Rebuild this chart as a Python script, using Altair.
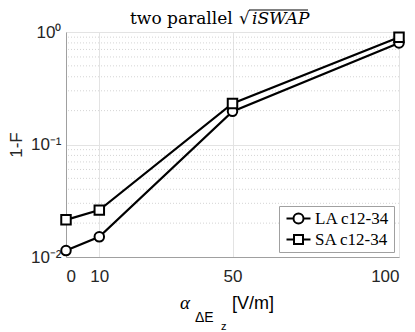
import altair as alt
import pandas as pd

# ---- data ----
alpha = [0, 10, 50, 100]
la_vals = [0.0114, 0.0151, 0.197, 0.80]
sa_vals = [0.0214, 0.0261, 0.232, 0.90]
series_names = ["LA c12-34", "SA c12-34"]
x_ticks = [0, 10, 50, 100]
y_ticks = [0.01, 0.1, 1]
y_minor = [0.02, 0.03, 0.04, 0.05, 0.06, 0.07, 0.08, 0.09,
           0.2, 0.3, 0.4, 0.5, 0.6, 0.7, 0.8, 0.9]
title_plain = ["two parallel"]
title_root = ["√"]
title_math = ["iSWAP"]
xt_alpha = ["α"]
xt_sub = ["ΔE"]
xt_subsub = ["z"]
xt_unit = ["[V/m]"]

df = pd.DataFrame({
    "alpha": alpha * 2,
    "infid": la_vals + sa_vals,
    "series": [series_names[0]] * len(alpha) + [series_names[1]] * len(alpha),
})

W, H = 333, 225
AX = "#a0a0a0"
TXT = "#262626"
SANS = "Liberation Sans"
SERIF = "Liberation Serif"
TSERIF = "DejaVu Serif"

xs = alt.Scale(domain=[0, 100], nice=False)
ys = alt.Scale(type="log", domain=[0.01, 1], nice=False)

x_axis = alt.Axis(values=x_ticks, title=None, grid=True, gridColor="#e3e3e3",
                  domainColor=AX, tickSize=0, labelFont=SANS, labelFontSize=17,
                  labelColor=TXT, labelPadding=11, format="d")
y_axis = alt.Axis(values=y_ticks, grid=True, gridColor="#e3e3e3", domainColor=AX,
                  tickSize=0, labelFont=SANS, labelFontSize=17, labelColor=TXT,
                  labelPadding=5,
                  labelExpr="datum.value > 0.5 ? '10⁰' : datum.value > 0.05 ? '10⁻¹' : '10⁻²'",
                  title="1-F", titleFont=SANS, titleFontSize=17, titleFontWeight="normal",
                  titleColor=TXT, titleX=-50, titleY=H / 2, titleBaseline="middle",
                  titleAlign="center", titleAngle=270)

minor = alt.Chart(pd.DataFrame({"v": y_minor})).mark_rule(
    color="#d4d4d4", strokeDash=[1, 2], strokeWidth=1
).encode(y=alt.Y("v:Q", scale=ys, axis=y_axis))

base = alt.Chart(df)
lines = base.mark_line(color="black", strokeWidth=2.2).encode(
    x=alt.X("alpha:Q", scale=xs, axis=x_axis),
    y=alt.Y("infid:Q", scale=ys, axis=y_axis),
    detail="series:N",
)
pts = base.mark_point(filled=True, fill="white", stroke="black", strokeWidth=2,
                      size=90, opacity=1).encode(
    x=alt.X("alpha:Q", scale=xs),
    y=alt.Y("infid:Q", scale=ys),
    shape=alt.Shape("series:N", scale=alt.Scale(domain=series_names, range=["circle", "square"]),
                    legend=None),
)

circ_path = "M-2.4,0H-1M1,0H2.4M-1,0A1,1,0,1,1,1,0A1,1,0,1,1,-1,0Z"
sq_path = "M-2.4,0H-0.9M0.9,0H2.4M-0.9,-0.9H0.9V0.9H-0.9Z"
leg = base.mark_point(opacity=0).encode(
    x=alt.X("alpha:Q", scale=xs),
    y=alt.Y("infid:Q", scale=ys),
    shape=alt.Shape("series:N", scale=alt.Scale(domain=series_names, range=[circ_path, sq_path]),
                    legend=alt.Legend(title=None, orient="none", legendX=213, legendY=174,
                                      symbolOpacity=1, symbolFillColor="white",
                                      symbolStrokeColor="black", symbolStrokeWidth=2,
                                      symbolSize=100, symbolOffset=7, labelOffset=8,
                                      labelFont=SERIF, labelFontSize=17, labelColor="black",
                                      strokeColor=AX, fillColor="white", padding=4,
                                      rowPadding=2)),
)

def txt(vals, font, size, xv, yv, style="normal", align="left"):
    return alt.Chart(pd.DataFrame({"t": vals})).mark_text(
        font=font, fontSize=size, fontStyle=style, align=align, baseline="alphabetic",
        color="black"
    ).encode(text="t:N", x=alt.value(xv), y=alt.value(yv))

t1 = txt(title_plain, TSERIF, 17, 64, -8)
t2 = txt(title_root, TSERIF, 17, 173, -8)
t3 = txt(title_math, TSERIF, 17, 186, -8, style="italic")
over = alt.Chart(pd.DataFrame({"t": [0]})).mark_rule(color="black", strokeWidth=1).encode(
    x=alt.value(183), x2=alt.value(242), y=alt.value(-22))

a1 = txt(xt_alpha, SERIF, 19, 114, 277, style="italic")
a2 = txt(xt_sub, SANS, 14, 129, 290)
a3 = txt(xt_subsub, SANS, 11, 155, 298)
a4 = txt(xt_unit, SANS, 18, 166, 277)

chart = alt.layer(minor, lines, pts, leg, t1, t2, t3, over, a1, a2, a3, a4).resolve_scale(
    shape="independent"
).properties(
    width=W, height=H,
    autosize=alt.AutoSizeParams(type="none"),
    padding={"left": 58, "top": 24, "right": 8, "bottom": 80},
).configure_view(stroke=AX, strokeWidth=1).configure(background="white")

chart.save("out.html", embed_options={"renderer": "svg", "actions": False})
